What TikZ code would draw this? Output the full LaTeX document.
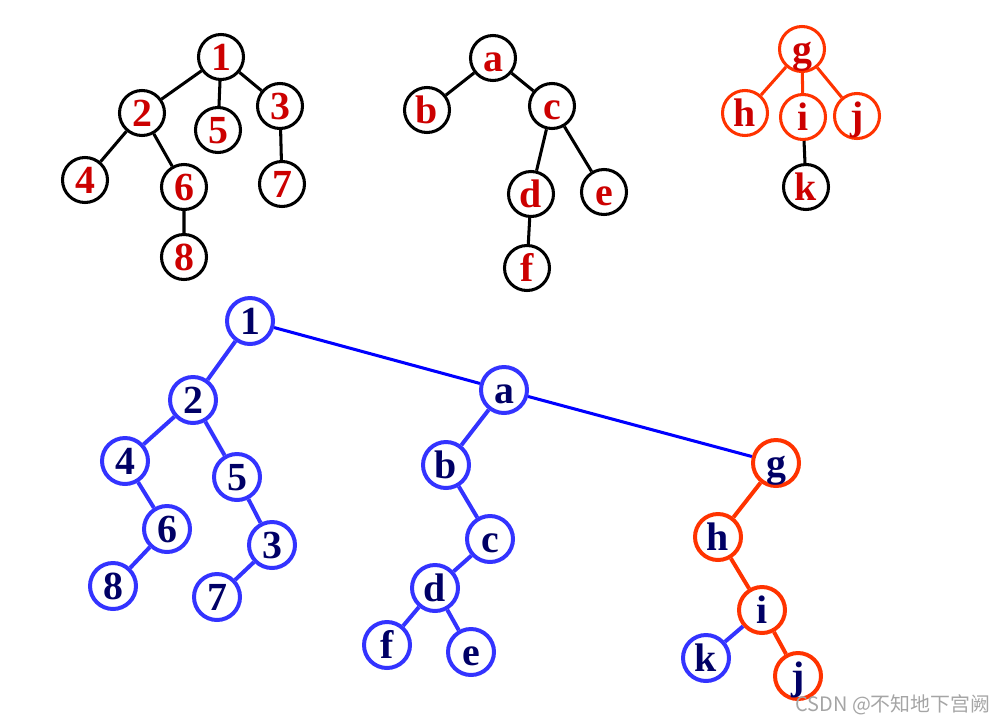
\documentclass[tikz,border=0pt]{standalone}
\usepackage{fontspec}
\setmainfont{Liberation Serif}
\newfontfamily\cjk{Noto Sans CJK SC}
\definecolor{nodered}{RGB}{204,0,0}
\definecolor{orangered}{RGB}{255,51,0}
\definecolor{binblue}{RGB}{51,51,255}
\definecolor{linkblue}{RGB}{0,0,255}
\definecolor{navy}{RGB}{0,0,102}
\definecolor{markgray}{RGB}{165,165,165}
\tikzset{
  vert/.style={
    shape = circle,
    draw,
    fill = white,
    line width = 2.6pt,
    minimum size = 1.35cm,
    inner sep = 0,
    text height = 0.8cm,
    text depth = 0cm,
    text = nodered,
    font = \fontsize{34}{34}\selectfont\bfseries
  },
  vertr/.style={
    vert,
    draw = orangered
  },
  bvert/.style={
    vert,
    draw = binblue,
    line width = 3.4pt,
    minimum size = 1.38cm,
    text = navy
  },
  bvertr/.style={
    bvert,
    draw = orangered
  },
  edge/.style={
    line width = 2.6pt
  },
  bedge/.style={
    line width = 3.4pt,
    draw = binblue
  },
  link/.style={
    line width = 2.6pt,
    draw = linkblue
  },
  wmark/.style={
    text = markgray,
    font = \cjk\fontsize{17}{17}\selectfont
  }
}
\begin{document}
\begin{tikzpicture}[x=0.03cm,y=-0.03cm]
  \useasboundingbox (0,0) rectangle (1004,723);
  % forest: tree 1
  \node[vert] (p1) at (221,57) {1};
  \node[vert] (p2) at (142,113) {2};
  \node[vert] (p5) at (218,130) {5};
  \node[vert] (p3) at (280,106) {3};
  \node[vert] (p4) at (85,180) {4};
  \node[vert] (p6) at (184,187) {6};
  \node[vert] (p7) at (282,184) {7};
  \node[vert] (p8) at (184,257) {8};
  \draw[edge] (p1)--(p2) (p1)--(p5) (p1)--(p3);
  \draw[edge] (p2)--(p4) (p2)--(p6) (p6)--(p8) (p3)--(p7);
  % forest: tree a
  \node[vert] (pa) at (493,58) {a};
  \node[vert] (pb) at (427,110) {b};
  \node[vert] (pc) at (552,106) {c};
  \node[vert] (pd) at (531,194) {d};
  \node[vert] (pe) at (604,192) {e};
  \node[vert] (pf) at (527,268) {f};
  \draw[edge] (pa)--(pb) (pa)--(pc) (pc)--(pd) (pc)--(pe) (pd)--(pf);
  % forest: tree g
  \node[vertr] (pg) at (802,49) {g};
  \node[vertr] (ph) at (745,113) {h};
  \node[vertr] (pi) at (803,117) {i};
  \node[vertr] (pj) at (857,116) {j};
  \node[vert] (pk) at (806,187) {k};
  \draw[edge, draw=orangered] (pg)--(ph) (pg)--(pi) (pg)--(pj);
  \draw[edge] (pi)--(pk);
  % binary tree
  \node[bvert] (q1) at (250,321) {1};
  \node[bvert] (q2) at (193,400) {2};
  \node[bvert] (q4) at (125,461) {4};
  \node[bvert] (q5) at (237,477) {5};
  \node[bvert] (q6) at (167,529) {6};
  \node[bvert] (q3) at (272,545) {3};
  \node[bvert] (q8) at (113,586) {8};
  \node[bvert] (q7) at (217,597) {7};
  \node[bvert] (qa) at (504,390) {a};
  \node[bvert] (qb) at (446,465) {b};
  \node[bvert] (qc) at (490,539) {c};
  \node[bvert] (qd) at (435,588) {d};
  \node[bvert] (qf) at (387,645) {f};
  \node[bvert] (qe) at (471,652) {e};
  \node[bvertr] (qg) at (776,463) {g};
  \node[bvertr] (qh) at (718,537) {h};
  \node[bvertr] (qi) at (762,610) {i};
  \node[bvert] (qk) at (706,658) {k};
  \node[bvertr] (qj) at (798,676) {j};
  \draw[bedge] (q1)--(q2) (q2)--(q4) (q2)--(q5) (q4)--(q6) (q6)--(q8) (q5)--(q3) (q3)--(q7);
  \draw[bedge] (qa)--(qb) (qb)--(qc) (qc)--(qd) (qd)--(qf) (qd)--(qe);
  \draw[bedge, draw=orangered] (qg)--(qh) (qh)--(qi) (qi)--(qj);
  \draw[bedge] (qi)--(qk);
  \draw[link] (q1)--(qa) (qa)--(qg);
  \node[wmark] (mark) at (893,705) {CSDN @不知地下宫阙};
\end{tikzpicture}
\end{document}
